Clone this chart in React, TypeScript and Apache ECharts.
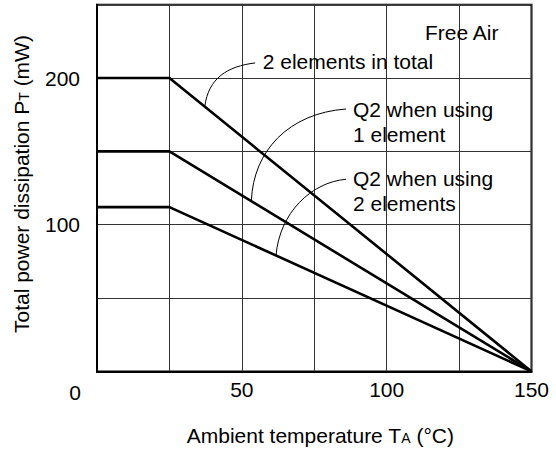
import React, { useEffect, useRef } from "react";
import * as echarts from "echarts";

// ---- data ----
const temps = [0, 25, 150];
const totalTwoElements = [200, 200, 0];
const q2OneElement = [150, 150, 0];
const q2TwoElements = [112, 112, 0];

const xTickLabels = [0, 50, 100, 150];
const yTickLabels = [100, 200];

const annotationTexts = [
  "Free Air",
  "2 elements in total",
  "Q2 when using\n1 element",
  "Q2 when using\n2 elements",
];

// leader curves in data units: [start, ctrl1, ctrl2, end]
const leaders: number[][][] = [
  [[54.6, 210.3], [45, 208], [38.5, 200], [37.2, 180.6]],
  [[86.0, 178.9], [66, 176], [54, 150], [53.3, 116.6]],
  [[86.0, 131.0], [74, 129], [63, 108], [61.8, 79.0]],
];

const FONT = '"Liberation Sans", Arial, Helvetica, sans-serif';

export default function App() {
  const ref = useRef<HTMLDivElement>(null);

  useEffect(() => {
    if (!ref.current) return;
    const chart = echarts.init(ref.current, null, { renderer: "svg" });
    const mk = (vals: number[]) => temps.map((t, i) => [t, vals[i]]);
    const lineStyle = { color: "#000", width: 2.6 };
    const subStyle = { fontSize: 14, color: "#000", fontFamily: FONT, verticalAlign: "bottom", padding: [0, 0, 1, 0] };
    chart.setOption({
      animation: false,
      backgroundColor: "#fff",
      textStyle: { fontFamily: FONT },
      grid: {
        left: 97,
        right: 24.5,
        top: 4.7,
        bottom: 79.4,
        show: true,
        borderColor: "#000",
        borderWidth: 2,
        containLabel: false,
      },
      xAxis: {
        type: "value",
        min: 0,
        max: 150,
        interval: 25,
        name: "Ambient temperature T{s|A} (°C)",
        nameLocation: "middle",
        nameGap: 53.6,
        nameTextStyle: {
          fontSize: 21,
          color: "#000",
          fontFamily: FONT,
          padding: [0, 0, 0, 12],
          rich: { s: subStyle },
        },
        axisLine: { show: true, lineStyle: { color: "#000", width: 2 } },
        axisTick: { show: false },
        splitLine: { show: true, lineStyle: { color: "#333", width: 1 } },
        axisLabel: {
          margin: 8,
          fontSize: 21,
          color: "#000",
          fontFamily: FONT,
          formatter: (v: number) => {
            if (!xTickLabels.includes(v)) return "";
            if (v === 0) return "{z|0}";
            return String(v);
          },
          rich: {
            z: { fontSize: 21, color: "#000", fontFamily: FONT, padding: [3, 44, 0, 0] },
          },
        },
      },
      yAxis: {
        type: "value",
        min: 0,
        max: 250,
        interval: 50,
        name: "Total power dissipation P{s|T} (mW)",
        nameLocation: "middle",
        nameGap: 65,
        nameTextStyle: {
          fontSize: 21,
          color: "#000",
          fontFamily: FONT,
          padding: [0, 0, 0, 8],
          rich: { s: subStyle },
        },
        axisLine: { show: true, lineStyle: { color: "#000", width: 2 } },
        axisTick: { show: false },
        splitLine: { show: true, lineStyle: { color: "#333", width: 1 } },
        axisLabel: {
          margin: 17,
          fontSize: 21,
          color: "#000",
          fontFamily: FONT,
          formatter: (v: number) => (yTickLabels.includes(v) ? String(v) : ""),
        },
      },
      series: [
        { name: "2 elements in total", type: "line", data: mk(totalTwoElements), symbol: "none", lineStyle, z: 5 },
        { name: "Q2 when using 1 element", type: "line", data: mk(q2OneElement), symbol: "none", lineStyle, z: 5 },
        { name: "Q2 when using 2 elements", type: "line", data: mk(q2TwoElements), symbol: "none", lineStyle, z: 5 },
      ],
    });

    const px = (p: number[]) => chart.convertToPixel({ gridIndex: 0 }, p) as number[];
    const curves = leaders.map((l) => {
      const [a, b, c, d] = l.map(px);
      return {
        type: "bezierCurve",
        z: 10,
        shape: { x1: a[0], y1: a[1], cpx1: b[0], cpy1: b[1], cpx2: c[0], cpy2: c[1], x2: d[0], y2: d[1] },
        style: { stroke: "#000", lineWidth: 1, fill: null },
      };
    });
    const textPos = [
      { x: 425, y: 32.5, lh: 21 },
      { x: 262.7, y: 61.5, lh: 21 },
      { x: 353, y: 121.5, lh: 25 },
      { x: 353, y: 191.2, lh: 24.5 },
    ];
    const texts = annotationTexts.map((t, i) => ({
      type: "text",
      z: 10,
      x: textPos[i].x,
      y: textPos[i].y,
      style: {
        text: t,
        fontSize: 21,
        fontFamily: FONT,
        fill: "#000",
        align: "left",
        verticalAlign: "middle",
        lineHeight: textPos[i].lh,
      },
    }));
    chart.setOption({ graphic: [...curves, ...texts] });

    return () => chart.dispose();
  }, []);

  return (
    <div
      ref={ref}
      style={{ position: "fixed", left: 0, top: 0, width: 556, height: 451, background: "#fff" }}
    />
  );
}
